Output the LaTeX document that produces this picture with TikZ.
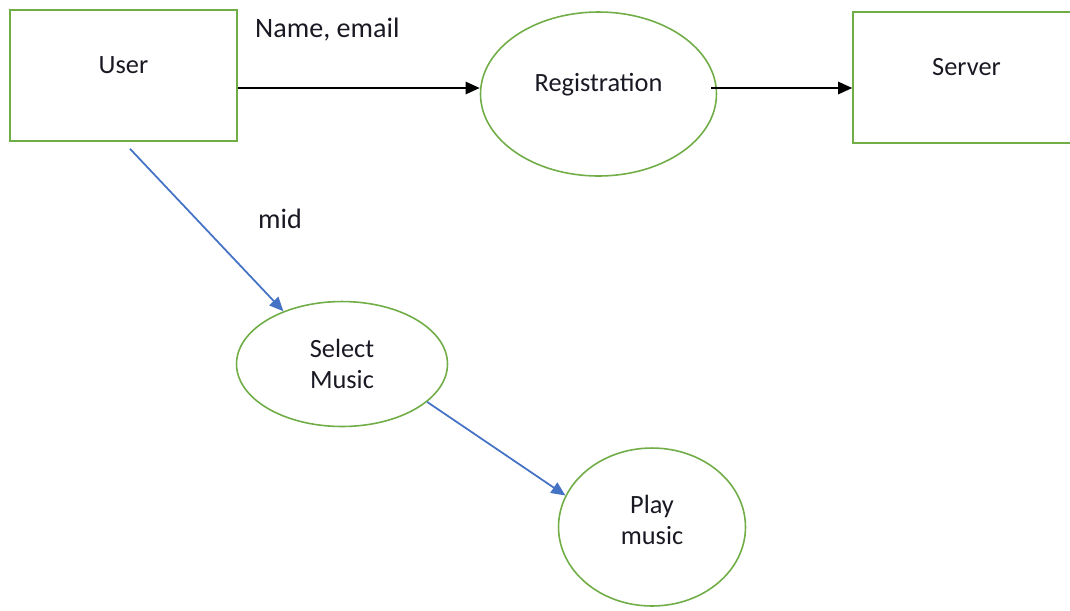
\documentclass[tikz,border=0pt]{standalone}
\usepackage{fontspec}
\setmainfont{Carlito}
\usepackage{xcolor}
\usetikzlibrary{shapes.geometric, arrows.meta, positioning}
\definecolor{boxgreen}{RGB}{112,173,71}
\definecolor{flowblue}{RGB}{68,114,196}
\definecolor{inkdark}{RGB}{25,25,35}

\begin{document}
\begin{tikzpicture}[x=0.02cm, y=-0.02cm, >={Triangle[length=8pt, width=7pt]},
        entity/.style={rectangle, draw=boxgreen, line width=0.9pt, minimum width=4.54cm, minimum height=2.62cm, text height=0.4cm, text depth=0.49cm, text=inkdark, font=\fontsize{15}{18}\selectfont},
        process/.style={ellipse, draw=boxgreen, line width=0.9pt, align=center, inner sep=0pt, text=inkdark, font=\fontsize{15}{18}\selectfont},
        dataflow/.style={->, line width=1pt, draw=black},
        musicflow/.style={->, line width=1pt, draw=flowblue},
        flowlabel/.style={text=inkdark, font=\fontsize{16}{19}\selectfont}
    ]
        \path[use as bounding box, clip] (0,0) rectangle (1070,610);

        % Nodes
        \node [entity] (user) at (123.5,75.5) {User};
        \node [process, minimum width=4.72cm, minimum height=3.28cm, text height=0.4cm, text depth=0.5cm, right=4.84cm of user, yshift=-0.37cm] (reg) {Registration};
        \node [entity, right=2.7cm of reg, yshift=0.33cm] (srv) {Server};
        \node [process, minimum width=4.22cm, minimum height=2.5cm] (select) at (342,364) {Select\\Music};
        \node [process, minimum width=3.74cm, minimum height=3.16cm, text depth=0.28cm] (play) at (652,527) {Play\\music};

        % Connectors
        \coordinate (nameout) at ([yshift=-0.25cm]user.east);
        \coordinate (regout) at ([xshift=-0.12cm, yshift=0.12cm]reg.east);
        \draw[dataflow] (nameout) -- node[pos=0.37, yshift=1.16cm, flowlabel] {Name, email} (nameout -| reg.west);
        \draw[dataflow] (regout) -- (regout -| srv.west);
        \draw[musicflow] ([xshift=0.13cm, yshift=-0.14cm]user.south) -- node[pos=0.43, xshift=1.68cm, flowlabel] {mid} (select.138);
        \draw[musicflow] (select.-24) -- (play.160);
    \end{tikzpicture}
\end{document}
